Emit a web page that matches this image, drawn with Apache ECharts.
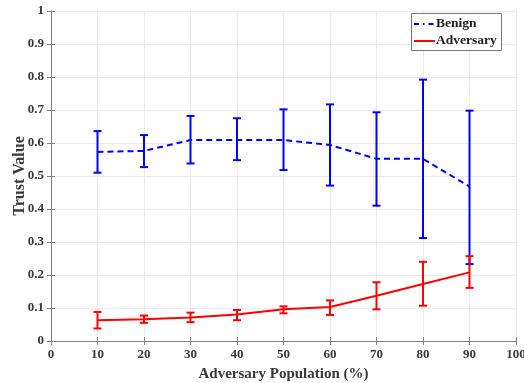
<!DOCTYPE html>
<html>
<head>
<meta charset="utf-8">
<script src="https://cdn.jsdelivr.net/npm/echarts@6/dist/echarts.min.js"></script>
<style>
  html, body { margin: 0; padding: 0; background: #fff; }
  #chart { width: 524px; height: 383px; }
</style>
</head>
<body>
<div id="chart"></div>
<script>
// Adversary population levels (%)
const populations = [10, 20, 30, 40, 50, 60, 70, 80, 90];

// Benign nodes: mean trust with lower / upper error bounds
const benignMean = [0.573, 0.576, 0.609, 0.609, 0.609, 0.594, 0.552, 0.552, 0.468];
const benignLow  = [0.510, 0.527, 0.538, 0.548, 0.518, 0.471, 0.410, 0.312, 0.233];
const benignHigh = [0.636, 0.624, 0.682, 0.675, 0.702, 0.717, 0.693, 0.792, 0.698];

// Adversary nodes: mean trust with lower / upper error bounds
const adversaryMean = [0.063, 0.066, 0.071, 0.080, 0.096, 0.103, 0.137, 0.173, 0.208];
const adversaryLow  = [0.038, 0.055, 0.057, 0.063, 0.084, 0.079, 0.096, 0.107, 0.161];
const adversaryHigh = [0.088, 0.077, 0.086, 0.094, 0.105, 0.123, 0.178, 0.240, 0.257];

const xTicks = [0, 10, 20, 30, 40, 50, 60, 70, 80, 90, 100];
const yTicks = [0, 0.1, 0.2, 0.3, 0.4, 0.5, 0.6, 0.7, 0.8, 0.9, 1];
const seriesNames = ['Benign', 'Adversary'];

const FONT = '"Liberation Serif", "DejaVu Serif", serif';
const AXIS_GRAY = '#808080';
const TEXT = '#383838';
const BLUE = '#0000ff';
const RED = '#ff0000';

function errorBars(low, high) {
  return populations.map((x, i) => [x, low[i], high[i]]);
}

function errorRenderer(color) {
  return function (params, api) {
    const x = api.value(0);
    const lo = api.coord([x, api.value(1)]);
    const hi = api.coord([x, api.value(2)]);
    const cap = 4;
    const style = { stroke: color, lineWidth: 2 };
    return {
      type: 'group',
      children: [
        { type: 'line', shape: { x1: lo[0], y1: lo[1], x2: hi[0], y2: hi[1] }, style },
        { type: 'line', shape: { x1: hi[0] - cap, y1: hi[1], x2: hi[0] + cap, y2: hi[1] }, style },
        { type: 'line', shape: { x1: lo[0] - cap, y1: lo[1], x2: lo[0] + cap, y2: lo[1] }, style }
      ]
    };
  };
}

const axisCommon = {
  type: 'value',
  axisLine: { show: true, lineStyle: { color: AXIS_GRAY, width: 1 } },
  axisTick: { show: true, inside: true, length: 4, lineStyle: { color: AXIS_GRAY } },
  splitLine: { show: false }
};

// Boxed legend in the upper-right corner of the plot
const legendBox = { x: 411.5, y: 13.5, w: 90, h: 37 };
const legendFont = { fontFamily: FONT, fontWeight: 'bold', fontSize: 13.5, fill: '#222', verticalAlign: 'middle' };
const legendGraphic = [
  {
    type: 'rect',
    shape: { x: legendBox.x, y: legendBox.y, width: legendBox.w, height: legendBox.h },
    style: { fill: '#ffffff', stroke: '#777777', lineWidth: 1 },
    z: 10
  },
  {
    type: 'line',
    shape: { x1: 414, y1: 24, x2: 435, y2: 24 },
    style: { stroke: BLUE, lineWidth: 2, lineDash: [5, 4, 1.5, 4] },
    z: 11
  },
  {
    type: 'text',
    style: Object.assign({ x: 436, y: 24, text: seriesNames[0] }, legendFont),
    z: 11
  },
  {
    type: 'line',
    shape: { x1: 414, y1: 41, x2: 435, y2: 41 },
    style: { stroke: RED, lineWidth: 2 },
    z: 11
  },
  {
    type: 'text',
    style: Object.assign({ x: 436, y: 41, text: seriesNames[1] }, legendFont),
    z: 11
  }
];

const chart = echarts.init(document.getElementById('chart'), null, { renderer: 'canvas' });

chart.setOption({
  animation: false,
  backgroundColor: '#ffffff',
  grid: { left: 51, right: 8, top: 11, bottom: 42, containLabel: false, outerBoundsMode: 'none' },
  xAxis: [
    Object.assign({}, axisCommon, {
      min: 0, max: 100, interval: 10,
      name: 'Adversary Population (%)',
      nameLocation: 'middle',
      nameGap: 26,
      nameMoveOverlap: false,
      nameTextStyle: { fontFamily: FONT, fontWeight: 'bold', fontSize: 15, color: TEXT },
      axisLabel: {
        margin: 7,
        fontFamily: FONT, fontWeight: 'bold', fontSize: 13, color: TEXT,
        formatter: v => xTicks.includes(v) ? String(v) : ''
      },
      splitLine: { show: true, lineStyle: { color: '#ebebeb', width: 1 } }
    }),
    Object.assign({}, axisCommon, {
      position: 'top', min: 0, max: 100, interval: 10,
      axisLabel: { show: false }
    })
  ],
  yAxis: [
    Object.assign({}, axisCommon, {
      min: 0, max: 1, interval: 0.1,
      name: 'Trust Value',
      nameLocation: 'middle',
      nameGap: 23,
      nameMoveOverlap: false,
      nameTextStyle: { fontFamily: FONT, fontWeight: 'bold', fontSize: 16, color: TEXT },
      axisLabel: {
        margin: 7,
        fontFamily: FONT, fontWeight: 'bold', fontSize: 13, color: TEXT,
        formatter: v => {
          const t = yTicks.find(k => Math.abs(k - v) < 1e-9);
          return t === undefined ? '' : String(t);
        }
      },
      splitLine: { show: true, lineStyle: { color: '#ebebeb', width: 1 } }
    }),
    Object.assign({}, axisCommon, {
      position: 'right', min: 0, max: 1, interval: 0.1,
      axisLabel: { show: false }
    })
  ],
  graphic: legendGraphic,
  series: [
    {
      name: seriesNames[0],
      type: 'line',
      data: populations.map((x, i) => [x, benignMean[i]]),
      symbol: 'none',
      color: BLUE,
      lineStyle: { color: BLUE, width: 2, type: [6, 4] },
      z: 3
    },
    {
      name: 'BenignErr',
      type: 'custom',
      renderItem: errorRenderer(BLUE),
      data: errorBars(benignLow, benignHigh),
      encode: { x: 0, y: [1, 2] },
      z: 3
    },
    {
      name: seriesNames[1],
      type: 'line',
      data: populations.map((x, i) => [x, adversaryMean[i]]),
      symbol: 'none',
      color: RED,
      lineStyle: { color: RED, width: 2 },
      z: 4
    },
    {
      name: 'AdversaryErr',
      type: 'custom',
      renderItem: errorRenderer(RED),
      data: errorBars(adversaryLow, adversaryHigh),
      encode: { x: 0, y: [1, 2] },
      z: 4
    }
  ]
});
</script>
</body>
</html>
